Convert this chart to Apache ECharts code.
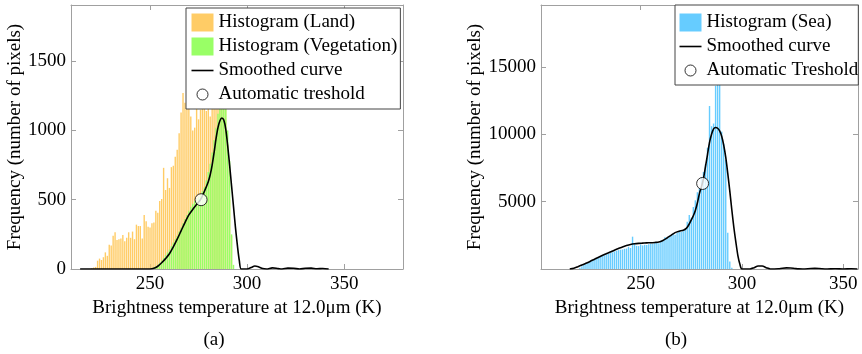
<!DOCTYPE html>
<html>
<head>
<meta charset="utf-8">
<script src="https://cdn.jsdelivr.net/npm/echarts@6/dist/echarts.min.js"></script>
<style>
  html, body { margin: 0; padding: 0; background: #fff; }
  #chart { width: 862px; height: 354px; }
</style>
</head>
<body>
<div id="chart"></div>
<script>
// (a) land / vegetation histograms, 1 K bins
const landFirstBin = 220;
const landCounts = [
  5, 10, 15, 60, 75, 65, 85, 120, 95, 175,
  170, 240, 265, 210, 215, 220, 245, 200, 225, 265,
  225, 270, 215, 320, 310, 310, 220, 390, 345, 305,
  300, 330, 335, 420, 405, 490, 505, 730, 570, 655,
  585, 735, 745, 810, 860, 980, 1130, 1270, 1200, 1280,
  1190, 1100, 1000, 1020, 1160, 1080, 1150, 1170, 1200, 1140,
  1180, 1100, 1190, 1180, 1250, 1280, 1350, 1400, 1380, 1250,
  900, 500, 240
];
const vegFirstBin = 251;
const vegCounts = [
  5, 12, 20, 30, 45, 60, 80, 100, 120, 140,
  165, 190, 215, 240, 270, 300, 330, 360, 390, 420,
  450, 470, 490, 505, 520, 540, 560, 590, 640, 700,
  760, 840, 930, 1020, 1120, 1250, 1320, 1300, 1260, 1000,
  780, 250, 30
];
const landCurveT = [214, 250, 252, 254, 256, 258, 260, 262, 264, 266,
  268, 270, 272, 274, 276, 278, 280, 281, 282, 283,
  284, 285, 286, 287, 288, 289, 290, 291, 292, 293,
  294, 295, 296, 297, 300, 302, 304, 306, 308, 310,
  313, 316, 318, 321, 324, 327, 330, 333, 336, 339, 342];
const landCurveF = [0, 0, 5, 20, 45, 75, 110, 160, 215, 275,
  335, 390, 430, 465, 500, 560, 630, 680, 750, 840,
  940, 1020, 1070, 1090, 1075, 1010, 890, 750, 600, 450,
  300, 170, 60, 0, 0, 10, 22, 15, 3, 0,
  8, 3, 0, 6, 5, 0, 5, 6, 2, 4, 0];
const landThreshold = [276.3, 500];

// (b) sea histogram
const seaFirstBin = 220;
const seaCounts = [
  100, 200, 300, 380, 450, 530, 600, 680, 760, 820,
  900, 960, 1020, 1080, 1140, 1200, 1250, 1300, 1350, 1400,
  1430, 1450, 1500, 1520, 1650, 1560, 2400, 1900, 1720, 1700,
  1820, 1750, 1800, 1780, 1830, 1900, 1870, 1950, 2000, 1920,
  2100, 2150, 2350, 2250, 2400, 2500, 2600, 2550, 2700, 2800,
  2750, 2900, 3000, 3500, 4000, 3800, 4600, 5100, 5700, 6000,
  6800, 7200, 7800, 9000, 12100, 10600, 10800, 13600, 15500, 14800,
  10200, 9300, 8100, 2700, 550, 100
];
const seaCurveT = [215, 217, 219, 221, 223, 225, 227, 229, 231, 233,
  235, 237, 239, 241, 243, 245, 247, 249, 251, 253,
  255, 257, 259, 261, 263, 265, 267, 269, 271, 272,
  273, 274, 275, 276, 277, 278, 279, 280, 281, 282,
  283, 284, 285, 286, 287, 288, 289, 290, 291, 292,
  293, 294, 295, 296, 297, 298, 299, 300, 304, 306,
  308, 310, 312, 314, 318, 320, 322, 324, 326, 328,
  330, 334, 336, 338, 342, 346, 350, 354, 357];
const seaCurveF = [0, 60, 170, 290, 420, 560, 710, 860, 1000, 1130,
  1260, 1400, 1520, 1640, 1740, 1820, 1870, 1900, 1920, 1940,
  1950, 1970, 2000, 2120, 2300, 2500, 2700, 2800, 2880, 2950,
  3100, 3350, 3650, 3950, 4350, 4900, 5600, 6100, 6700, 7600,
  8500, 9400, 10000, 10400, 10500, 10450, 10250, 9850, 9200, 8300,
  7100, 5800, 4400, 3100, 2000, 1000, 350, 0, 0, 100,
  220, 220, 100, 0, 20, 60, 80, 70, 40, 10,
  0, 40, 50, 40, 0, 20, 0, 15, 0];
const seaThreshold = [280.6, 6350];

const xTicks = [250, 300, 350];
const yTicksA = [0, 500, 1000, 1500];
const yTicksB = [5000, 10000, 15000];

const font = 'Liberation Serif';
const frame = '#a0a0a0';
const xTitle = 'Brightness temperature at 12.0\u03bcm (K)';
const yTitle = 'Frequency (number of pixels)';

const bins = (first, counts) => counts.map((c, i) => [first + i, c]);
const pairs = (t, f) => t.map((v, i) => [v, f[i]]);
const plain = (v) => String(v);

function xAxes(gridIndex, min, max) {
  const tick = { inside: true, length: 5, customValues: xTicks, lineStyle: { color: frame } };
  return [
    {
      type: 'value', gridIndex, min, max, position: 'bottom',
      name: xTitle, nameLocation: 'middle', nameGap: 20,
      nameTextStyle: { fontFamily: font, fontSize: 19, color: '#000' },
      axisLine: { onZero: false, lineStyle: { color: frame } },
      axisTick: tick,
      axisLabel: { customValues: xTicks, formatter: plain, margin: 6, fontFamily: font, fontSize: 19, color: '#000' },
      splitLine: { show: false }
    },
    {
      type: 'value', gridIndex, min, max, position: 'top',
      axisLine: { onZero: false, lineStyle: { color: frame } },
      axisTick: tick, axisLabel: { show: false }, splitLine: { show: false }
    }
  ];
}

function yAxes(gridIndex, max, ticks, labels, gap) {
  const tick = { inside: true, length: 5, customValues: ticks, lineStyle: { color: frame } };
  return [
    {
      type: 'value', gridIndex, min: 0, max, position: 'left',
      name: yTitle, nameLocation: 'middle', nameGap: gap,
      nameTextStyle: { fontFamily: font, fontSize: 19, color: '#000' },
      axisLine: { show: true, lineStyle: { color: frame } },
      axisTick: tick,
      axisLabel: { customValues: labels, formatter: plain, margin: 5, fontFamily: font, fontSize: 19, color: '#000' },
      splitLine: { show: false }
    },
    {
      type: 'value', gridIndex, min: 0, max, position: 'right',
      axisLine: { show: true, lineStyle: { color: frame } },
      axisTick: tick, axisLabel: { show: false }, splitLine: { show: false }
    }
  ];
}

const lineIcon = 'path://M0,0M22,18M0,8.2h22v1.6h-22z';
const circleIcon = 'path://M0,0M22,18M16.5,9a5.5,5.5 0 1,1 -11,0a5.5,5.5 0 1,1 11,0z';

function legend(left, top, padding, items) {
  return {
    orient: 'vertical', left, top, padding,
    itemWidth: 22, itemHeight: 18, itemGap: 5,
    symbolKeepAspect: true,
    backgroundColor: '#fff', borderColor: '#444', borderWidth: 1, borderRadius: 0,
    textStyle: { fontFamily: font, fontSize: 19, color: '#000' },
    selectedMode: false,
    data: items
  };
}

const curveStyle = { color: '#000', width: 1.6 };
const markerStyle = { color: '#fff', borderColor: '#000', borderWidth: 1 };
const barStyle = (color) => ({ color, borderWidth: 0, opacity: 1 });

const option = {
  animation: false,
  backgroundColor: '#fff',
  grid: [
    { left: 71, top: 5, width: 332, height: 264 },
    { left: 541, top: 5, width: 317, height: 264 }
  ],
  xAxis: [...xAxes(0, 209.3, 380.3), ...xAxes(1, 200.8, 357.3)],
  yAxis: [...yAxes(0, 1905, yTicksA, yTicksA, 36), ...yAxes(1, 19600, [0].concat(yTicksB), yTicksB, 48)],
  legend: [
    legend(186, 8, [5, 3, 5, 5], [
      { name: 'Histogram (Land)', icon: 'rect' },
      { name: 'Histogram (Vegetation)', icon: 'rect' },
      { name: 'Smoothed curve', icon: lineIcon, itemStyle: { borderWidth: 0 } },
      { name: 'Automatic treshold', icon: circleIcon, itemStyle: { borderWidth: 1 } }
    ]),
    legend(675, 5, [8, 0, 5, 4], [
      { name: 'Histogram (Sea)', icon: 'rect' },
      { name: 'Smoothed curve', icon: lineIcon, itemStyle: { borderWidth: 0 } },
      { name: 'Automatic Treshold', icon: circleIcon, itemStyle: { borderWidth: 1 } }
    ])
  ],
  series: [
    {
      name: 'Histogram (Land)', type: 'bar', xAxisIndex: 0, yAxisIndex: 0,
      barWidth: 1.4, barGap: '-100%', itemStyle: barStyle('#ffcc66'),
      data: bins(landFirstBin, landCounts)
    },
    {
      name: 'Histogram (Vegetation)', type: 'bar', xAxisIndex: 0, yAxisIndex: 0,
      barWidth: 1.4, barGap: '-100%', itemStyle: barStyle('#99ff66'),
      data: bins(vegFirstBin, vegCounts)
    },
    {
      name: 'Smoothed curve', type: 'line', xAxisIndex: 0, yAxisIndex: 0,
      symbol: 'none', smooth: 0.3, lineStyle: curveStyle, itemStyle: { color: '#000' }, z: 4,
      data: pairs(landCurveT, landCurveF)
    },
    {
      name: 'Automatic treshold', type: 'scatter', xAxisIndex: 0, yAxisIndex: 0,
      symbolSize: 12, itemStyle: markerStyle, z: 5,
      data: [landThreshold]
    },
    {
      name: 'Histogram (Sea)', type: 'bar', xAxisIndex: 2, yAxisIndex: 2,
      barWidth: 1.4, itemStyle: barStyle('#66ccff'),
      data: bins(seaFirstBin, seaCounts)
    },
    {
      name: 'Smoothed curve', type: 'line', xAxisIndex: 2, yAxisIndex: 2,
      symbol: 'none', smooth: 0.3, lineStyle: curveStyle, itemStyle: { color: '#000' }, z: 4,
      data: pairs(seaCurveT, seaCurveF)
    },
    {
      name: 'Automatic Treshold', type: 'scatter', xAxisIndex: 2, yAxisIndex: 2,
      symbolSize: 12, itemStyle: markerStyle, z: 5,
      data: [seaThreshold]
    }
  ],
  graphic: [
    { type: 'text', x: 214, y: 340, style: { text: '(a)', font: '19px "Liberation Serif"', fill: '#000', align: 'center', verticalAlign: 'middle' } },
    { type: 'text', x: 676, y: 340, style: { text: '(b)', font: '19px "Liberation Serif"', fill: '#000', align: 'center', verticalAlign: 'middle' } }
  ]
};

const chart = echarts.init(document.getElementById('chart'));
chart.setOption(option);
</script>
</body>
</html>
